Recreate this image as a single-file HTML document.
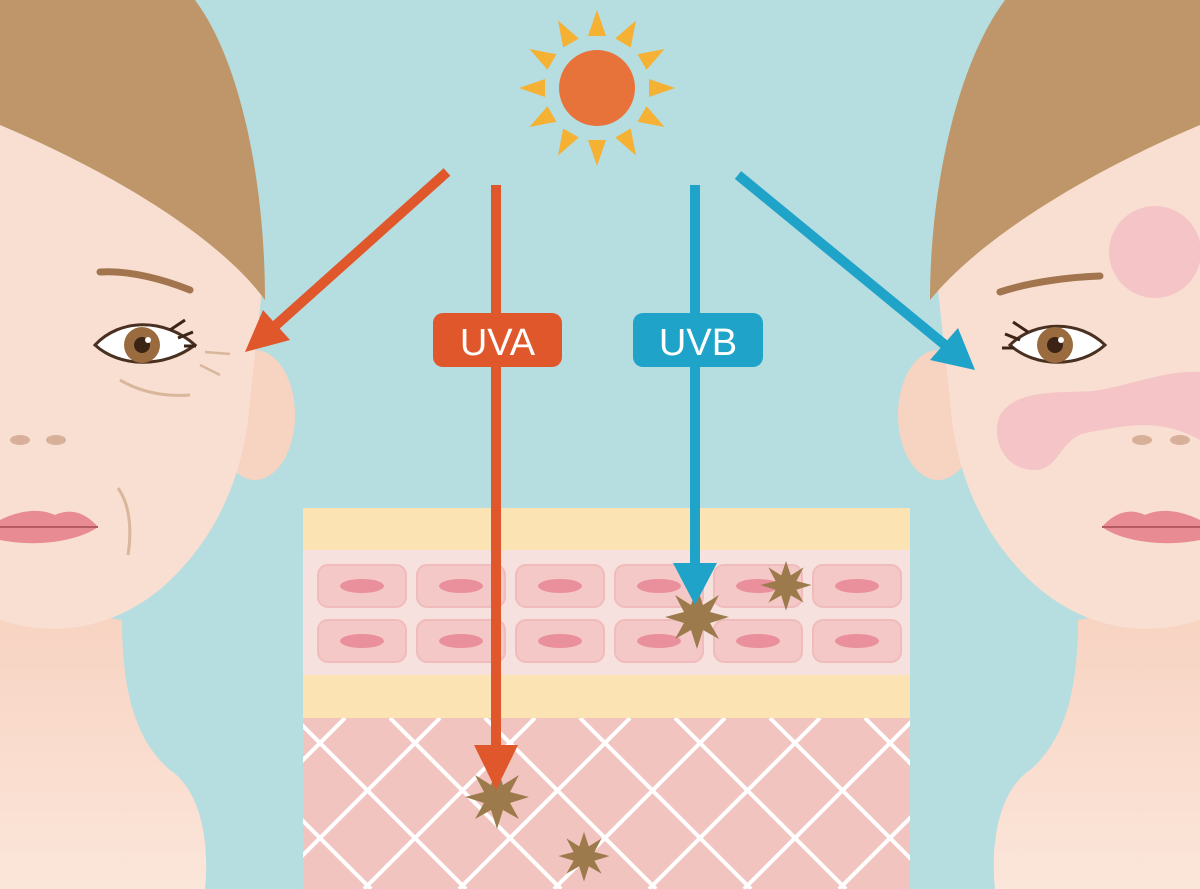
<!DOCTYPE html>
<html><head><meta charset="utf-8"><style>
html,body{margin:0;padding:0;background:#b6dde0;}
svg{display:block}
</style></head><body>
<svg width="1200" height="889" viewBox="0 0 1200 889" xmlns="http://www.w3.org/2000/svg">
<defs>
<linearGradient id="neck" x1="0" y1="0" x2="0" y2="1"><stop offset="0" stop-color="#f7cfbd"/><stop offset="1" stop-color="#fbe6da"/></linearGradient>
<clipPath id="derm"><rect x="303" y="718" width="607" height="171"/></clipPath>
</defs>
<rect width="1200" height="889" fill="#b6dde0"/>

<!-- LEFT FACE -->
<path d="M0,560 L0,889 L205,889 C210,840 200,790 170,770 C135,740 122,690 122,620 L0,600Z" fill="url(#neck)"/>
<ellipse cx="255" cy="415" rx="40" ry="65" fill="#f7d3c2"/>
<path d="M0,100 L0,620 C60,640 120,625 165,585 C220,535 245,470 250,400 L262,290 C255,150 180,70 0,60Z" fill="#f8dfd2"/>
<path d="M0,0 L195,0 C240,60 265,180 265,300 C225,245 130,180 0,125Z" fill="#bf9669"/>
<path d="M100,272 C130,270 165,280 190,290" stroke="#a2754e" stroke-width="7" fill="none" stroke-linecap="round"/>
<path d="M95,345 C120,318 165,318 195,345 C165,368 120,368 95,345Z" fill="#fff" stroke="#4a3020" stroke-width="3"/>
<circle cx="142" cy="345" r="18" fill="#9a6b3e"/><circle cx="142" cy="345" r="8" fill="#3b2416"/><circle cx="148" cy="340" r="3" fill="#fff"/>
<path d="M170,330 l15,-10 M178,338 l15,-6 M184,346 l12,0" stroke="#3b2416" stroke-width="3"/>
<path d="M120,380 C140,392 165,397 190,395" stroke="#d8b79a" stroke-width="3" fill="none"/>
<path d="M200,365 l20,10 M205,352 l25,2" stroke="#d8b79a" stroke-width="2.5"/>
<path d="M118,488 C130,505 132,530 128,555" stroke="#d8b79a" stroke-width="3" fill="none"/>
<ellipse cx="20" cy="440" rx="10" ry="5" fill="#d8b09a"/><ellipse cx="56" cy="440" rx="10" ry="5" fill="#d8b09a"/>
<path d="M0,520 C20,510 40,508 55,515 C70,508 85,512 98,527 C80,540 40,548 0,540Z" fill="#e88b93"/>
<path d="M0,527 L98,527" stroke="#b55a62" stroke-width="2"/>

<!-- RIGHT FACE -->
<path d="M1200,560 L1200,889 L995,889 C990,840 1000,790 1030,770 C1065,740 1078,690 1078,620 L1200,600Z" fill="url(#neck)"/>
<ellipse cx="938" cy="415" rx="40" ry="65" fill="#f7d3c2"/>
<path d="M1200,100 L1200,620 C1140,640 1080,625 1035,585 C980,535 955,470 950,400 L938,290 C945,150 1020,70 1200,60Z" fill="#f8dfd2"/>
<path d="M1200,0 L1005,0 C960,60 930,180 930,300 C975,245 1070,180 1200,125Z" fill="#bf9669"/>
<circle cx="1155" cy="252" r="46" fill="#f4c4c7"/>
<path d="M1000,415 C1020,385 1070,395 1100,390 C1140,382 1170,370 1200,372 L1200,440 C1160,418 1130,425 1090,432 C1060,436 1060,470 1035,470 C1005,470 990,440 1000,415Z" fill="#f4c4c7"/>
<path d="M1000,292 C1030,282 1070,277 1100,276" stroke="#a2754e" stroke-width="7" fill="none" stroke-linecap="round"/>
<path d="M1010,345 C1035,320 1080,320 1105,345 C1080,368 1035,368 1010,345Z" fill="#fff" stroke="#4a3020" stroke-width="3"/>
<circle cx="1055" cy="345" r="18" fill="#9a6b3e"/><circle cx="1055" cy="345" r="8" fill="#3b2416"/><circle cx="1061" cy="340" r="3" fill="#fff"/>
<path d="M1028,332 l-15,-10 M1020,340 l-15,-6 M1014,348 l-12,0" stroke="#3b2416" stroke-width="3"/>
<ellipse cx="1142" cy="440" rx="10" ry="5" fill="#d8b09a"/><ellipse cx="1180" cy="440" rx="10" ry="5" fill="#d8b09a"/>
<path d="M1200,520 C1180,510 1160,508 1145,515 C1130,508 1115,512 1102,527 C1120,540 1160,548 1200,540Z" fill="#e88b93"/>
<path d="M1102,527 L1200,527" stroke="#b55a62" stroke-width="2"/>

<!-- SKIN BLOCK -->
<rect x="303" y="508" width="607" height="42" fill="#fbe3b3"/>
<rect x="303" y="550" width="607" height="125" fill="#f7e1de"/>
<rect x="303" y="675" width="607" height="43" fill="#fbe3b3"/>
<rect x="303" y="718" width="607" height="171" fill="#f2c4c0"/>
<g clip-path="url(#derm)" stroke="#fff" stroke-width="4">
<path d="M200,718 L371,889 M295,718 L466,889 M390,718 L561,889 M485,718 L656,889 M580,718 L751,889 M675,718 L846,889 M770,718 L941,889 M865,718 L1036,889"/>
<path d="M1010,718 L839,889 M915,718 L744,889 M820,718 L649,889 M725,718 L554,889 M630,718 L459,889 M535,718 L364,889 M440,718 L269,889 M345,718 L174,889"/>
</g>
<g fill="#f3c8c6" stroke="#f0bcbb" stroke-width="2">
<rect x="318" y="565" width="88" height="42" rx="10"/><rect x="417" y="565" width="88" height="42" rx="10"/><rect x="516" y="565" width="88" height="42" rx="10"/><rect x="615" y="565" width="88" height="42" rx="10"/><rect x="714" y="565" width="88" height="42" rx="10"/><rect x="813" y="565" width="88" height="42" rx="10"/>
<rect x="318" y="620" width="88" height="42" rx="10"/><rect x="417" y="620" width="88" height="42" rx="10"/><rect x="516" y="620" width="88" height="42" rx="10"/><rect x="615" y="620" width="88" height="42" rx="10"/><rect x="714" y="620" width="88" height="42" rx="10"/><rect x="813" y="620" width="88" height="42" rx="10"/>
</g>
<g fill="#e9909c">
<ellipse cx="362" cy="586" rx="22" ry="7"/><ellipse cx="461" cy="586" rx="22" ry="7"/><ellipse cx="560" cy="586" rx="22" ry="7"/><ellipse cx="659" cy="586" rx="22" ry="7"/><ellipse cx="758" cy="586" rx="22" ry="7"/><ellipse cx="857" cy="586" rx="22" ry="7"/>
<ellipse cx="362" cy="641" rx="22" ry="7"/><ellipse cx="461" cy="641" rx="22" ry="7"/><ellipse cx="560" cy="641" rx="22" ry="7"/><ellipse cx="659" cy="641" rx="22" ry="7"/><ellipse cx="758" cy="641" rx="22" ry="7"/><ellipse cx="857" cy="641" rx="22" ry="7"/>
</g>

<!-- SUN -->
<g fill="#f5b133" transform="translate(597,88)">
<g id="ray"><polygon points="-9,-52 9,-52 0,-78"/></g>
<use href="#ray" transform="rotate(30)"/><use href="#ray" transform="rotate(60)"/><use href="#ray" transform="rotate(90)"/><use href="#ray" transform="rotate(120)"/><use href="#ray" transform="rotate(150)"/><use href="#ray" transform="rotate(180)"/><use href="#ray" transform="rotate(210)"/><use href="#ray" transform="rotate(240)"/><use href="#ray" transform="rotate(270)"/><use href="#ray" transform="rotate(300)"/><use href="#ray" transform="rotate(330)"/>
</g>
<circle cx="597" cy="88" r="38" fill="#e8733a"/>

<!-- STARS -->
<g fill="#9c7a4c">
<polygon id="st" points="0,-30 6,-12 22,-22 13,-5 32,0 13,6 22,22 6,13 0,32 -6,13 -22,22 -13,6 -32,0 -13,-5 -22,-22 -6,-12" transform="translate(497,797)"/>
<polygon points="0,-30 6,-12 22,-22 13,-5 32,0 13,6 22,22 6,13 0,32 -6,13 -22,22 -13,6 -32,0 -13,-5 -22,-22 -6,-12" transform="translate(584,856) scale(0.8)"/>
<polygon points="0,-30 6,-12 22,-22 13,-5 32,0 13,6 22,22 6,13 0,32 -6,13 -22,22 -13,6 -32,0 -13,-5 -22,-22 -6,-12" transform="translate(697,617)"/>
<polygon points="0,-30 6,-12 22,-22 13,-5 32,0 13,6 22,22 6,13 0,32 -6,13 -22,22 -13,6 -32,0 -13,-5 -22,-22 -6,-12" transform="translate(786,585) scale(0.8)"/>
</g>

<!-- ARROWS -->
<g fill="#e0572b" stroke="#e0572b">
<line x1="447" y1="172" x2="275" y2="326" stroke-width="10"/>
<polygon points="245,352 263,310 290,340" stroke="none"/>
<line x1="496" y1="185" x2="496" y2="750" stroke-width="10"/>
<polygon points="474,745 518,745 496,790" stroke="none"/>
</g>
<g fill="#20a3c9" stroke="#20a3c9">
<line x1="695" y1="185" x2="695" y2="565" stroke-width="10"/>
<polygon points="673,563 717,563 695,605" stroke="none"/>
<line x1="738" y1="175" x2="945" y2="345" stroke-width="10"/>
<polygon points="975,370 930,360 958,328" stroke="none"/>
</g>
<rect x="433" y="313" width="129" height="54" rx="10" fill="#e0572b"/>
<text x="497.5" y="355" text-anchor="middle" font-family="Liberation Sans, sans-serif" font-size="38" fill="#fff">UVA</text>
<rect x="633" y="313" width="130" height="54" rx="10" fill="#20a3c9"/>
<text x="698" y="355" text-anchor="middle" font-family="Liberation Sans, sans-serif" font-size="38" fill="#fff">UVB</text>
</svg>
</body></html>
